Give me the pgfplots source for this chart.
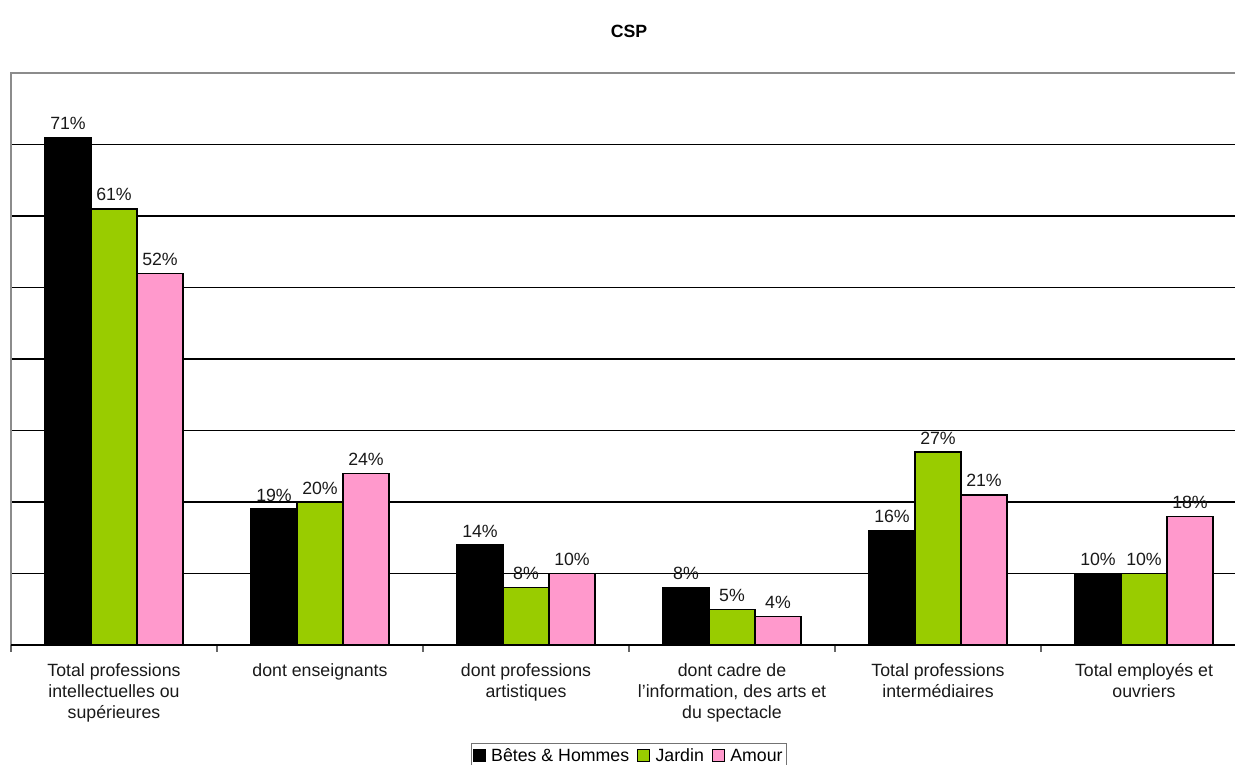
\documentclass[border=0pt]{standalone}
\usepackage{pgfplots}
\pgfplotsset{compat=1.18}
\usepackage{fontspec}
\setmainfont{Liberation Sans}
\definecolor{bhblack}{HTML}{000000}
\definecolor{jardin}{HTML}{99CC00}
\definecolor{amour}{HTML}{FF99CC}
\begin{document}
\begin{tikzpicture}[x=0.75pt,y=0.75pt]
\begin{axis}[
  scale only axis,
  width=927pt, height=429pt,
  ybar=0pt,
  bar width=34.5pt,
  xmin=-0.5, xmax=5.5,
  ymin=0, ymax=80,
  xtick pos=bottom,
  xtick={0,1,2,3,4,5},
  xticklabels={
    {\strut Total professions\\intellectuelles ou\\supérieures},
    {\strut dont enseignants},
    {\strut dont professions\\artistiques},
    {\strut dont cadre de\\l'information, des arts et\\du spectacle},
    {\strut Total professions\\intermédiaires},
    {\strut Total employés et\\ouvriers}},
  x tick label style={font=\fontsize{13.3}{15.75}\selectfont, align=center, text=black!90, yshift=-9pt},
  major tick length=0pt,
  extra x ticks={-0.5,0.5,1.5,2.5,3.5,4.5,5.5},
  extra x tick labels={},
  extra x tick style={major tick length=5pt, tick align=outside, grid=none,
    tick style={draw=black!60, line width=0.9pt}},
  ytick={10,20,30,40,50,60,70},
  yticklabels={},
  ymajorgrids,
  grid style={black, line width=0.9pt},
  axis line style={draw=none},
  title={\textbf{CSP}},
  title style={font=\fontsize{13.3}{15}\selectfont, yshift=17pt},
  nodes near coords={\pgfmathprintnumber{\pgfplotspointmeta}\%},
  every node near coord/.append style={font=\fontsize{13.3}{15}\selectfont, text=black!90, yshift=2pt},
  /pgf/number format/assume math mode=true,
  legend style={at={(rel axis cs:0.5,-0.171)}, anchor=north, legend columns=-1,
    draw=black!55, line width=0.8pt, font=\fontsize{13.3}{15}\selectfont,
    inner sep=1pt, column sep=2pt,
    /tikz/every even column/.append style={column sep=4pt}},
  legend image code/.code={\draw[#1, line width=0.8pt] (0pt,-4.5pt) rectangle (9pt,4.5pt);},
  clip=false,
]
\addplot[fill=bhblack, draw=black, line width=1pt] coordinates {(0,71) (1,19) (2,14) (3,8) (4,16) (5,10)};
\addplot[fill=jardin, draw=black, line width=1pt] coordinates {(0,61) (1,20) (2,8) (3,5) (4,27) (5,10)};
\addplot[fill=amour, draw=black, line width=1pt] coordinates {(0,52) (1,24) (2,10) (3,4) (4,21) (5,18)};
\legend{\strut B\^etes \& Hommes, \strut Jardin, \strut Amour}
% frame: grey left and top, black bottom
\draw[black!45, line width=1.2pt] (rel axis cs:0,0) -- (rel axis cs:0,1) -- (rel axis cs:1,1);
\draw[black, line width=0.9pt] (rel axis cs:0,0) -- (rel axis cs:1,0);
\end{axis}
\pgfresetboundingbox
\path (-11,-119) rectangle (1224,645);
\end{tikzpicture}
\end{document}
